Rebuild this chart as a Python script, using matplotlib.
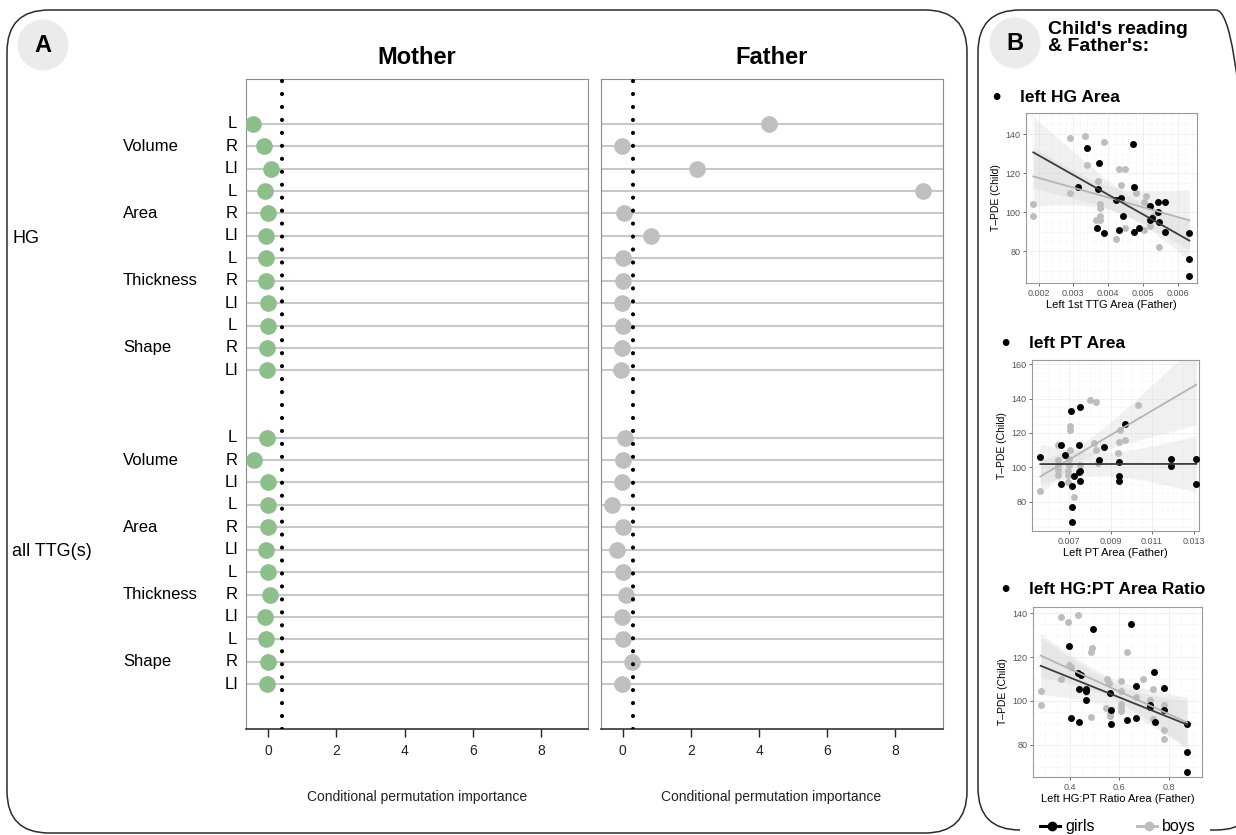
import numpy as np
import matplotlib.pyplot as plt
from matplotlib.patches import FancyBboxPatch, Circle, Rectangle
from matplotlib.lines import Line2D

plt.rcParams['font.family'] = ['Liberation Sans', 'DejaVu Sans']

W, H = 1236, 835

# ---- panel A: conditional permutation importance ----
regions = ['HG', 'all TTG(s)']
measures = ['Volume', 'Area', 'Thickness', 'Shape']
sides = ['L', 'R', 'LI']

mother_hg = [-0.45, -0.13, 0.08, -0.10, 0.00, -0.07, -0.05, -0.05, -0.01, 0.00, -0.03, -0.03]
mother_ttg = [-0.02, -0.42, -0.01, 0.00, 0.00, -0.05, 0.00, 0.05, -0.10, -0.05, 0.00, -0.02]
father_hg = [4.30, -0.02, 2.17, 8.82, 0.03, 0.82, 0.00, 0.02, -0.02, 0.00, -0.03, -0.06]
father_ttg = [0.08, 0.00, -0.03, -0.30, 0.01, -0.16, 0.01, 0.10, -0.01, 0.01, 0.28, -0.01]
mother_threshold = 0.41
father_threshold = 0.31
imp_ticks = [0, 2, 4, 6, 8]

# ---- panel B: child's reading vs father's measures ----
hg_area_girls_x = [0.00313, 0.00339, 0.00373, 0.00471, 0.00372, 0.00367, 0.00388, 0.00423, 0.00437,
                   0.00473, 0.00443, 0.00432, 0.00475, 0.00488, 0.00519, 0.00542, 0.00564, 0.00542,
                   0.00525, 0.00520, 0.00546, 0.00564, 0.00633, 0.00633, 0.00633]
hg_area_girls_y = [113, 133, 125, 135, 112, 92, 89, 106, 107, 113, 98, 91, 90, 92, 103, 105, 105, 100,
                   97, 96, 95, 90, 89, 76, 67]
hg_area_boys_x = [0.00289, 0.00333, 0.00389, 0.00339, 0.00432, 0.00447, 0.00372, 0.00438, 0.00289,
                  0.00185, 0.00185, 0.00377, 0.00377, 0.00365, 0.00377, 0.00377, 0.00422, 0.00447,
                  0.00480, 0.00508, 0.00502, 0.00502, 0.00516, 0.00521, 0.00547, 0.00530]
hg_area_boys_y = [138, 139, 136, 124, 122, 122, 116, 114, 110, 104, 98, 104, 102, 96, 98, 96, 86, 92,
                  110, 108, 105, 91, 103, 93, 82, 98]

pt_area_girls_x = [0.00562, 0.00660, 0.00660, 0.00681, 0.00710, 0.00754, 0.00747, 0.00722, 0.00713,
                   0.00754, 0.00747, 0.00754, 0.00713, 0.00713, 0.00844, 0.00868, 0.00970, 0.00940,
                   0.00940, 0.00940, 0.01191, 0.01191, 0.01313, 0.01313]
pt_area_girls_y = [106, 113, 90.5, 107, 133, 135, 113, 95, 89, 98, 97, 92, 77, 68, 104.5, 112, 125, 103,
                   95, 92, 105, 100.5, 105, 90.5]
pt_area_boys_x = [0.00562, 0.00647, 0.00647, 0.00647, 0.00647, 0.00647, 0.00706, 0.00706, 0.00706,
                  0.00700, 0.00700, 0.00694, 0.00694, 0.00694, 0.00722, 0.00754, 0.00801, 0.00828,
                  0.00820, 0.00828, 0.00842, 0.00934, 0.00940, 0.00946, 0.00970, 0.01034]
pt_area_boys_y = [86, 113, 104.5, 101.5, 98.5, 95.5, 124, 122, 110, 105, 101.5, 98, 95.5, 91.5, 82.5,
                  101.5, 139, 138, 114, 110, 102.5, 108.5, 115, 122, 116, 136]

ratio_girls_x = [0.397, 0.435, 0.446, 0.439, 0.467, 0.465, 0.467, 0.405, 0.439, 0.496, 0.647, 0.564,
                 0.566, 0.566, 0.632, 0.667, 0.667, 0.741, 0.726, 0.726, 0.745, 0.781, 0.780,
                 0.875, 0.875, 0.875]
ratio_girls_y = [125, 113, 112, 105.3, 105.3, 104.6, 100.4, 92.4, 90.3, 133, 135, 103.5, 95.7, 89.4,
                 91.5, 92.4, 107, 113.3, 98.3, 97.2, 90.6, 95.7, 106, 89.5, 76.6, 67.7]
ratio_boys_x = [0.283, 0.283, 0.365, 0.395, 0.432, 0.365, 0.397, 0.405, 0.492, 0.488, 0.488, 0.551,
                0.559, 0.548, 0.564, 0.564, 0.467, 0.632, 0.606, 0.606, 0.606, 0.606, 0.606, 0.667,
                0.698, 0.726, 0.738, 0.738, 0.781, 0.781, 0.781]
ratio_boys_y = [104.4, 98.3, 138.2, 136, 139.1, 110.2, 116.4, 115.3, 124.2, 122.2, 92.7, 109.9, 108.2,
                96.6, 94.1, 93, 103.9, 122.3, 109.2, 104.6, 98.6, 96.7, 95.3, 101.8, 110.1, 100.6,
                105.3, 91.7, 98.3, 86.8, 82.8]

fig = plt.figure(figsize=(W / 100, H / 100), dpi=100)


def px_axes(x0, y0, x1, y1):
    return fig.add_axes([x0 / W, 1 - y1 / H, (x1 - x0) / W, (y1 - y0) / H])


def px_text(x, y, s, **kw):
    fig.text(x / W, 1 - y / H, s, **kw)


def rounded_box(x0, y0, x1, y1, r=0.42):
    box = FancyBboxPatch((x0 / 100, (H - y1) / 100), (x1 - x0) / 100, (y1 - y0) / 100,
                         boxstyle=f'round,pad=0,rounding_size={r}', transform=fig.dpi_scale_trans,
                         fc='none', ec='#2b2b2b', lw=1.1)
    fig.add_artist(box)


def letter_badge(x, y, s):
    fig.add_artist(Circle((x / 100, (H - y) / 100), 0.255, transform=fig.dpi_scale_trans,
                          fc='#ebebeb', ec='none'))
    px_text(x, y, s, ha='center', va='center', fontsize=17, fontweight='bold')


rounded_box(7, 10, 967, 833)
rounded_box(978, 10, 1258, 830)
letter_badge(43, 45, 'A')
letter_badge(1015, 43, 'B')

# ---- panel A ----
rows = list(range(12)) + list(range(14, 26))
panels = [('Mother', mother_hg + mother_ttg, mother_threshold, '#8dbf8b', 246, 588),
          ('Father', father_hg + father_ttg, father_threshold, '#bfbfbf', 600.5, 942.5)]
top, bottom = 79, 729

for name, vals, thr, col, x0, x1 in panels:
    ax = px_axes(x0, top, x1, bottom)
    ax.set_xlim(-0.65, 9.38)
    ax.set_ylim(27, -2)
    for r in rows:
        ax.axhline(r, color='#c8c8c8', lw=1.5, zorder=1)
    ax.plot(vals, rows, 'o', ms=12, color=col, mec='none', zorder=3)
    ax.axvline(thr, color='black', lw=3, ls=(0, (0.01, 3.1)), dash_capstyle='round', zorder=4)
    ax.set_yticks([])
    ax.set_xticks(imp_ticks)
    ax.tick_params(axis='x', length=5.5, width=1, labelsize=10, pad=5, colors='#222222')
    for s in ['left', 'top', 'right']:
        ax.spines[s].set_color('#8c8c8c')
    ax.spines['bottom'].set_color('#333333')
    ax.spines['bottom'].set_linewidth(1.2)
    px_text((x0 + x1) / 2, 58, name, ha='center', va='center', fontsize=17, fontweight='bold')
    px_text((x0 + x1) / 2, 797, 'Conditional permutation importance', ha='center', va='center',
            fontsize=10, color='#222222')

    if name == 'Mother':
        tr = ax.get_yaxis_transform()
        fx = lambda px: (px - x0) / (x1 - x0)
        for i, r in enumerate(rows):
            ax.text(fx(232), r, sides[i % 3], transform=tr, ha='center', va='center', fontsize=12)
        for g in range(8):
            ax.text(fx(123), rows[g * 3 + 1], measures[g % 4], transform=tr, ha='left',
                    va='center', fontsize=12)
        ax.text(fx(12), np.mean(rows[:12]) - 0.4, regions[0], transform=tr, ha='left',
                va='center', fontsize=13)
        ax.text(fx(12), np.mean(rows[12:]) - 0.4, regions[1], transform=tr, ha='left',
                va='center', fontsize=13)

# ---- panel B ----
px_text(1048, 38, "Child's reading\n& Father's:", ha='left', va='center', fontsize=14,
        fontweight='bold', linespacing=0.95)


def lm_band(x, y, xs, t=2.07):
    x = np.asarray(x, float)
    y = np.asarray(y, float)
    b1, b0 = np.polyfit(x, y, 1)
    n = len(x)
    s = np.sqrt(np.sum((y - (b0 + b1 * x)) ** 2) / (n - 2))
    se = s * np.sqrt(1 / n + (xs - x.mean()) ** 2 / np.sum((x - x.mean()) ** 2))
    fit = b0 + b1 * xs
    return fit, fit - t * se, fit + t * se


scatters = [
    ('left HG Area', (996, 1020, 97), (1026, 113, 1197, 283), (0.00164, 0.00655), (63.6, 150.8),
     [0.002, 0.003, 0.004, 0.005, 0.006], [80, 100, 120, 140], 'Left 1st TTG Area (Father)',
     hg_area_girls_x, hg_area_girls_y, hg_area_boys_x, hg_area_boys_y),
    ('left PT Area', (1005, 1029, 344), (1032, 360, 1199, 531), (0.00522, 0.01326), (62.9, 162.5),
     [0.007, 0.009, 0.011, 0.013], [80, 100, 120, 140, 160], 'Left PT Area (Father)',
     pt_area_girls_x, pt_area_girls_y, pt_area_boys_x, pt_area_boys_y),
    ('left HG:PT Area Ratio', (1005, 1029, 590), (1033, 607, 1202, 777), (0.252, 0.935),
     (65.3, 142.9), [0.4, 0.6, 0.8], [80, 100, 120, 140], 'Left HG:PT Ratio Area (Father)',
     ratio_girls_x, ratio_girls_y, ratio_boys_x, ratio_boys_y),
]

for (title, (bx, tx, ty), box, xl, yl, xt, yt, xlab, gx, gy, bx_, by_) in scatters:
    px_text(bx, ty, '•', ha='center', va='center', fontsize=17, fontweight='bold')
    px_text(tx, ty, title, ha='left', va='center', fontsize=12.5, fontweight='bold')
    ax = px_axes(*box)
    ax.set_xlim(*xl)
    ax.set_ylim(*yl)
    allx = np.concatenate([gx, bx_])
    xs = np.linspace(allx.min(), allx.max(), 100)
    for xx, yy, pc, lc in [(bx_, by_, '#bdbdbd', '#b5b5b5'), (gx, gy, 'black', '#3c3c3c')]:
        fit, lo, hi = lm_band(xx, yy, xs)
        ax.fill_between(xs, lo, hi, color='#d0d0d0', alpha=0.28, lw=0, zorder=1)
        ax.scatter(xx, yy, s=25, color=pc, lw=0, zorder=3)
        ax.plot(xs, fit, color=lc, lw=1.3, zorder=4)
    ax.set_xticks(xt)
    ax.set_xticklabels([f'{v:g}' for v in xt])
    ax.set_yticks(yt)
    ax.minorticks_on()
    ax.grid(True, which='major', color='#f0f0f0', lw=0.7)
    ax.grid(True, which='minor', color='#f7f7f7', lw=0.5)
    ax.set_axisbelow(True)
    ax.tick_params(which='major', length=2.5, width=0.6, labelsize=6.5, colors='#555555', pad=1.5)
    ax.tick_params(which='minor', length=0)
    for s in ax.spines.values():
        s.set_color('#9a9a9a')
        s.set_linewidth(0.8)
    ax.set_xlabel(xlab, fontsize=8, labelpad=2)
    ax.set_ylabel('T–PDE (Child)', fontsize=7.5, labelpad=3)

# legend for panel B
fig.add_artist(Rectangle((1020 / W, 0), 190 / W, 16 / H, transform=fig.transFigure,
                         fc='white', ec='none'))
for x0, lab, col in [(1040, 'girls', 'black'), (1137, 'boys', '#bdbdbd')]:
    fig.add_artist(Line2D([x0 / W, (x0 + 20) / W], [1 - 826 / H] * 2, color=col, lw=2.2,
                          marker='', transform=fig.transFigure))
    fig.add_artist(Line2D([(x0 + 12) / W], [1 - 826 / H], color=col, marker='o', ms=6,
                          transform=fig.transFigure))
    px_text(x0 + 25, 826, lab, ha='left', va='center', fontsize=11.5)

fig.savefig('out.png', dpi=100)
